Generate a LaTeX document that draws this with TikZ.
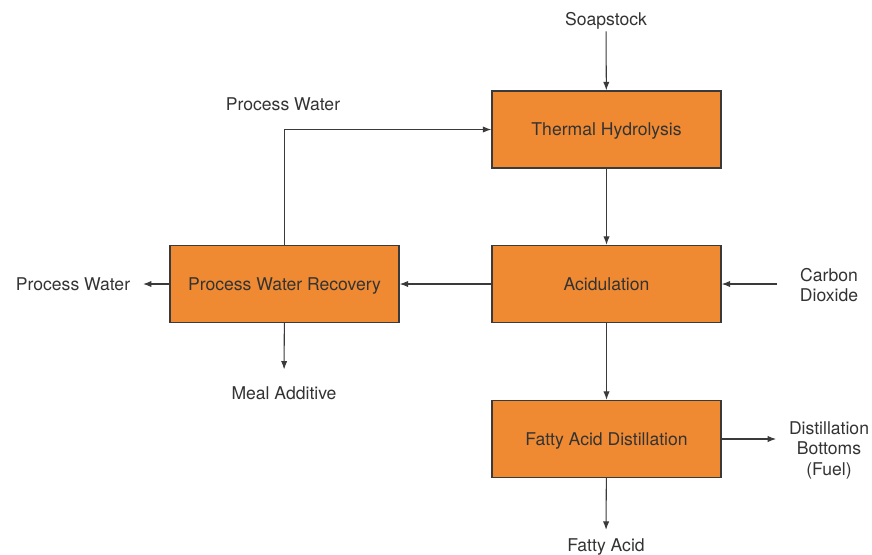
\documentclass[tikz,border=0pt]{standalone}
\usepackage{fontspec}
\setmainfont{TeX Gyre Heros}
\usepackage{xcolor}
\usepackage{tikz}
\usetikzlibrary{arrows.meta,positioning}
\definecolor{or}{RGB}{240,138,50}
\definecolor{dg}{RGB}{51,51,51}
\definecolor{ln}{RGB}{58,58,58}

\begin{document}
\begin{tikzpicture}[x=0.025cm,y=-0.025cm,
  font=\fontsize{12.5}{14.6}\selectfont,text=dg,
  unit/.style={draw=ln,line width=1pt,fill=or,minimum width=5.725cm,minimum height=1.925cm,inner sep=0pt,text depth=0pt},
  lab/.style={inner sep=0pt,align=center},
  one/.style={lab,text depth=0pt},
  arr/.style={-{Latex[length=6pt,width=4.5pt]},line width=0.75pt,draw=ln}]
  \useasboundingbox (0,0) rectangle (872,554);

  % units
  \node[unit] (th)  at (606.5,129.5) {Thermal Hydrolysis};
  \node[unit] (ac)  at (606.5,284)   {Acidulation};
  \node[unit] (fad) at (606.5,439)   {Fatty Acid Distillation};
  \node[unit] (pwr) at (284.5,284)   {Process Water Recovery};

  % streams
  \node[one] (soap) at (606,19)  {Soapstock};
  \node[one] (pwt)  at (283,104) {Process Water};
  \node[one] (pwl)  at (73,284)  {Process Water};
  \node[one] (meal) at (284,393) {Meal Additive};
  \node[lab] (co)   at (829,285) {Carbon\\Dioxide};
  \node[lab] (bot)  at (829,450) {Distillation\\Bottoms\\(Fuel)};
  \node[one] (fa)   at (606,545) {Fatty Acid};

  \draw[arr,shorten <=4pt] (soap) -- (th);
  \draw[arr] (th) -- (ac);
  \draw[arr] (ac) -- (fad);
  \draw[arr] (ac) -- (pwr);
  \draw[arr] (pwr.north) |- (th.west);
  \draw[arr,shorten >=9pt] (pwr) -- (pwl);
  \draw[arr,shorten >=12pt] (pwr) -- (meal);
  \draw[arr,shorten <=16pt] (ac.east -| co.west) -- (ac.east);
  \draw[arr,shorten >=9pt] (fad.east) -- (fad.east -| bot.west);
  \draw[arr,shorten >=6pt] (fad) -- (fa);
\end{tikzpicture}
\end{document}
